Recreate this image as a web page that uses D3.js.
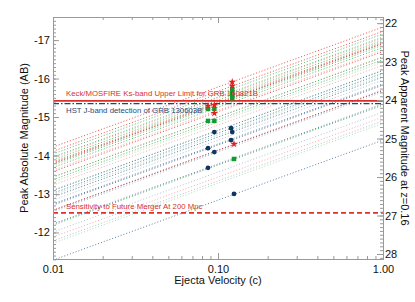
<!DOCTYPE html>
<html>
<head>
<meta charset="utf-8">
<script src="https://cdn.jsdelivr.net/npm/d3@7"></script>
<style>
body { margin: 0; background: #fff; }
text { font-family: "Liberation Sans", Arial, sans-serif; }
</style>
</head>
<body>
<script>
// tick labels
var xTicks = [0.01, 0.1, 1];
var absTicks = [-17, -16, -15, -14, -13, -12];
var appTicks = [22, 23, 24, 25, 26, 27, 28];
var distMod = 39.44; // apparent - absolute at z=0.16

// model tracks, [mag at v=0.01, mag at v=1.0]
var redTracks = [[-14.22, -17.34], [-14.11, -17.23], [-13.83, -16.95], [-13.79, -16.91], [-13.58, -16.70], [-12.58, -15.70]];
var pinkTracks = [[-13.93, -17.05], [-13.62, -16.74], [-13.44, -16.56], [-13.23, -16.35], [-11.88, -15.00]];
var greenTracks = [[-14.04, -17.16], [-13.96, -17.08], [-13.88, -17.00], [-13.80, -16.92], [-13.75, -16.87], [-13.69, -16.81], [-13.44, -16.56], [-13.37, -16.49], [-12.19, -15.31]];
var lightGreenTracks = [[-13.31, -16.43], [-13.10, -16.22], [-12.97, -16.09], [-11.72, -14.84]];
var blueTracks = [[-13.09, -16.21], [-13.02, -16.14], [-12.92, -16.04], [-12.71, -15.83], [-12.74, -15.86], [-12.57, -15.69], [-12.22, -15.34], [-11.28, -14.40]];
var lightBlueTracks = [[-12.84, -15.96], [-12.53, -15.65], [-12.01, -15.13], [-11.78, -14.90]];

// observed points [velocity, abs mag]
var blueDots = [[0.095, -14.61], [0.12, -14.71], [0.122, -14.61], [0.12, -14.40], [0.087, -14.19], [0.095, -14.09], [0.087, -13.68], [0.125, -13.00]];
var greenSquares = [[0.087, -15.21], [0.095, -15.21], [0.087, -14.90], [0.095, -14.90], [0.125, -13.91],
    [0.122, -15.73], [0.122, -15.65], [0.122, -15.57], [0.122, -15.49]];
var redStars = [[0.087, -15.29], [0.095, -15.31], [0.095, -15.10], [0.125, -14.30], [0.122, -15.91], [0.122, -15.81]];

// reference levels
var keckLimit = -15.42;
var hstDetection = -15.35;
var futureSensitivity = -12.51;

function init() {
    var w = 415, h = 302;
    var left = 53, right = 383, top = 17, bottom = 259;

    var svg = d3.select("body").append("svg").attr("width", w).attr("height", h);

    var x = d3.scaleLog().domain([0.01, 1]).range([left, right]);
    var y = d3.scaleLinear().domain([-17.6, -11.31]).range([top, bottom]);
    var y2 = d3.scaleLinear().domain([-17.6 + distMod, -11.31 + distMod]).range([top, bottom]);

    svg.append("clipPath").attr("id", "plotclip").append("rect")
        .attr("x", left).attr("y", top).attr("width", right - left).attr("height", bottom - top);

    var plot = svg.append("g").attr("clip-path", "url(#plotclip)");

    var line = d3.line().x(function (d) { return x(d[0]); }).y(function (d) { return y(d[1]); });

    function drawTracks(tracks, color, op) {
        plot.append("g").selectAll("path")
            .data(tracks)
            .enter()
            .append("path")
            .attr("d", function (d) { return line([[0.01, d[0]], [1, d[1]]]); })
            .attr("fill", "none")
            .attr("stroke", color)
            .attr("stroke-opacity", op)
            .attr("stroke-width", 1)
            .attr("stroke-dasharray", "1,2");
    }

    drawTracks(lightBlueTracks, "#9fb6cc", 0.85);
    drawTracks(lightGreenTracks, "#9ad6a3", 0.85);
    drawTracks(pinkTracks, "#f39a95", 0.85);
    drawTracks(blueTracks, "#4a6f96", 0.9);
    drawTracks(greenTracks, "#3aa655", 0.85);
    drawTracks(redTracks, "#e2342c", 0.85);

    // reference lines
    plot.append("line").attr("x1", left).attr("x2", right)
        .attr("y1", y(keckLimit)).attr("y2", y(keckLimit))
        .attr("stroke", "#d9302c").attr("stroke-width", 1.6);
    plot.append("line").attr("x1", left).attr("x2", right)
        .attr("y1", y(hstDetection)).attr("y2", y(hstDetection))
        .attr("stroke", "#234670").attr("stroke-width", 1.3)
        .attr("stroke-dasharray", "6,2,1.5,2");
    plot.append("line").attr("x1", left).attr("x2", right)
        .attr("y1", y(futureSensitivity)).attr("y2", y(futureSensitivity))
        .attr("stroke", "#e0302a").attr("stroke-width", 1.8)
        .attr("stroke-dasharray", "5,3");

    // markers
    plot.append("g").selectAll("path")
        .data(greenSquares).enter().append("path")
        .attr("transform", function (d) { return "translate(" + x(d[0]) + "," + y(d[1]) + ")"; })
        .attr("d", d3.symbol().type(d3.symbolSquare).size(20))
        .attr("fill", "#109a30");
    plot.append("g").selectAll("path")
        .data(blueDots).enter().append("path")
        .attr("transform", function (d) { return "translate(" + x(d[0]) + "," + y(d[1]) + ")"; })
        .attr("d", d3.symbol().type(d3.symbolCircle).size(18))
        .attr("fill", "#0f3560");
    plot.append("g").selectAll("path")
        .data(redStars).enter().append("path")
        .attr("transform", function (d) { return "translate(" + x(d[0]) + "," + y(d[1]) + ")"; })
        .attr("d", d3.symbol().type(d3.symbolStar).size(18))
        .attr("fill", "#e02020");

    // annotations
    svg.append("text").attr("x", 66).attr("y", y(keckLimit) - 5)
        .style("font-size", "7.8px").attr("fill", "#d9302c")
        .text("Keck/MOSFIRE Ks-band Upper Limit for GRB 160821B");
    svg.append("text").attr("x", 66).attr("y", y(hstDetection) + 9)
        .style("font-size", "7.8px").attr("fill", "#1f4a78")
        .text("HST J-band detection of GRB 130603B");
    svg.append("text").attr("x", 66).attr("y", y(futureSensitivity) - 4)
        .style("font-size", "7.8px").attr("fill", "#d9302c")
        .text("Sensitivity to Future Merger At 200 Mpc");

    // axes
    var minorX = x.ticks().filter(function (d) { return xTicks.indexOf(d) < 0; });
    var minorAbs = d3.range(-176, -112, 1).map(function (d) { return d / 10; });
    var minorApp = d3.range(219, 282, 1).map(function (d) { return d / 10; });

    function styleAxis(g) {
        g.selectAll("path, line").attr("stroke", "#999");
        g.selectAll("text").attr("fill", "#111").style("font-size", "11px")
            .style("font-family", "'Liberation Sans', Arial, sans-serif");
    }

    svg.append("g").attr("transform", "translate(0," + bottom + ")")
        .call(d3.axisBottom(x).tickValues(minorX).tickSizeInner(-3).tickSizeOuter(0).tickFormat(""))
        .call(styleAxis);
    svg.append("g").attr("transform", "translate(0," + bottom + ")")
        .call(d3.axisBottom(x).tickValues(xTicks).tickSizeInner(-6).tickSizeOuter(0).tickPadding(6).tickFormat(d3.format(".2f")))
        .call(styleAxis);
    svg.append("g").attr("transform", "translate(0," + top + ")")
        .call(d3.axisTop(x).tickValues(minorX).tickSizeInner(-3).tickSizeOuter(0).tickFormat(""))
        .call(styleAxis);
    svg.append("g").attr("transform", "translate(0," + top + ")")
        .call(d3.axisTop(x).tickValues(xTicks).tickSizeInner(-6).tickSizeOuter(0).tickFormat(""))
        .call(styleAxis);

    svg.append("g").attr("transform", "translate(" + left + ",0)")
        .call(d3.axisLeft(y).tickValues(minorAbs).tickSizeInner(-3).tickSizeOuter(0).tickFormat(""))
        .call(styleAxis);
    svg.append("g").attr("transform", "translate(" + left + ",0)")
        .call(d3.axisLeft(y).tickValues(absTicks).tickSizeInner(-6).tickSizeOuter(0).tickPadding(3).tickFormat(function (d) { return String(d); }))
        .call(styleAxis);
    svg.append("g").attr("transform", "translate(" + right + ",0)")
        .call(d3.axisRight(y2).tickValues(minorApp).tickSizeInner(-3).tickSizeOuter(0).tickFormat(""))
        .call(styleAxis);
    svg.append("g").attr("transform", "translate(" + right + ",0)")
        .call(d3.axisRight(y2).tickValues(appTicks).tickSizeInner(-6).tickSizeOuter(0).tickPadding(2).tickFormat(function (d) { return String(d); }))
        .call(styleAxis);

    // titles
    svg.append("text").attr("x", (left + right) / 2).attr("y", 284)
        .attr("text-anchor", "middle").style("font-size", "11px").attr("fill", "#111")
        .text("Ejecta Velocity (c)");
    svg.append("text").attr("transform", "translate(28," + ((top + bottom) / 2) + ") rotate(-90)")
        .attr("text-anchor", "middle").style("font-size", "11px").attr("fill", "#111")
        .text("Peak Absolute Magnitude (AB)");
    svg.append("text").attr("transform", "translate(401," + ((top + bottom) / 2) + ") rotate(90)")
        .attr("text-anchor", "middle").style("font-size", "11px").attr("fill", "#111")
        .text("Peak Apparent Magnitude at z=0.16");
}

window.onload = init;
</script>
</body>
</html>
